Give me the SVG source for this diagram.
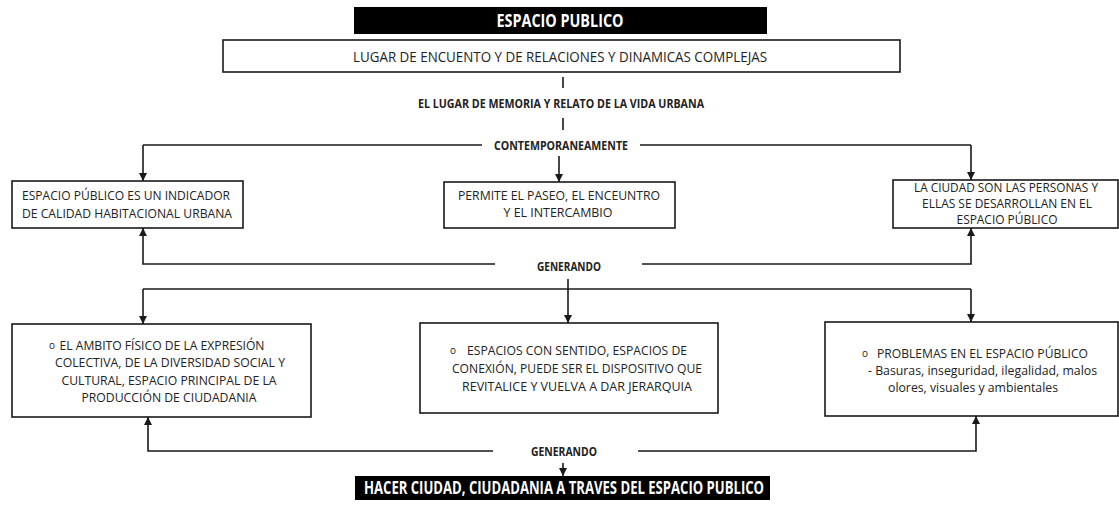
<svg xmlns="http://www.w3.org/2000/svg" width="1119" height="512" viewBox="0 0 1119 512">
<style>
.bg{fill:#fff}
.box{fill:#fff;stroke:#1a1a1a;stroke-width:1.6}
.dark{fill:#000}
.t{font-family:"Open Sans","Liberation Sans",sans-serif;font-size:13.5px;fill:#222;text-anchor:middle}
.tl{font-family:"Open Sans","Liberation Sans",sans-serif;font-size:12.5px;fill:#222}
.ts{font-size:12.5px}
.bul{font-family:"Open Sans","Liberation Sans",sans-serif;font-size:10px;fill:#222}
.b{font-family:"Open Sans","Liberation Sans",sans-serif;font-size:12px;font-weight:bold;fill:#222;text-anchor:middle}
.w{font-family:"Open Sans","Liberation Sans",sans-serif;font-size:17px;font-weight:bold;fill:#fff;text-anchor:middle}
.c{fill:none;stroke:#1a1a1a;stroke-width:1.6}
</style>
<defs>
<marker id="ah" viewBox="0 0 10 10" refX="10" refY="5" markerWidth="5" markerHeight="5" markerUnits="strokeWidth" orient="auto">
<path d="M0,0 L10,5 L0,10 z" fill="#1a1a1a"/>
</marker>
</defs>
<rect class="bg" x="0" y="0" width="1119" height="512"/>

<g id="connectors">
<line class="c" x1="563" y1="77" x2="563" y2="88"/>
<line class="c" x1="563" y1="118" x2="563" y2="130"/>
<line class="c" x1="143" y1="145" x2="482" y2="145"/>
<line class="c" x1="640" y1="145" x2="971" y2="145"/>
<path class="c" d="M143,145 V181" marker-end="url(#ah)"/>
<path class="c" d="M971,145 V180" marker-end="url(#ah)"/>
<path class="c" d="M559,156 V182" marker-end="url(#ah)"/>
<path class="c" d="M495,264 H143 V228" marker-end="url(#ah)"/>
<path class="c" d="M642,264 H971 V228" marker-end="url(#ah)"/>
<line class="c" x1="143" y1="289" x2="971" y2="289"/>
<path class="c" d="M143,289 V324" marker-end="url(#ah)"/>
<path class="c" d="M971,289 V322" marker-end="url(#ah)"/>
<path class="c" d="M568,279 V323" marker-end="url(#ah)"/>
<path class="c" d="M493,451 H148 V417" marker-end="url(#ah)"/>
<path class="c" d="M638,451 H976 V416" marker-end="url(#ah)"/>
<path class="c" d="M563,463 V476" marker-end="url(#ah)"/>
</g>

<g id="espacio-publico">
<rect class="dark" x="354" y="7" width="413" height="27"/>
<text class="w" x="560" y="27" textLength="127" lengthAdjust="spacingAndGlyphs">ESPACIO PUBLICO</text>
</g>

<g id="lugar">
<rect class="box" x="223" y="40" width="677" height="32"/>
<text class="t" x="560" y="62" style="font-size:15px" textLength="414" lengthAdjust="spacingAndGlyphs">LUGAR DE ENCUENTO Y DE RELACIONES Y DINAMICAS COMPLEJAS</text>
</g>

<g id="memoria">
<text class="b" x="561" y="108" textLength="286" lengthAdjust="spacingAndGlyphs">EL LUGAR DE MEMORIA Y RELATO DE LA VIDA URBANA</text>
</g>

<g id="contemporaneamente">
<text class="b" x="561" y="150" textLength="134" lengthAdjust="spacingAndGlyphs">CONTEMPORANEAMENTE</text>
</g>

<g id="indicador">
<rect class="box" x="12" y="181" width="231" height="47"/>
<text class="t" x="126" y="200" textLength="208" lengthAdjust="spacingAndGlyphs">ESPACIO PÚBLICO ES UN INDICADOR</text>
<text class="t" x="127" y="218" textLength="210" lengthAdjust="spacingAndGlyphs">DE CALIDAD HABITACIONAL URBANA</text>
</g>

<g id="paseo">
<rect class="box" x="444" y="182" width="231" height="46"/>
<text class="t" x="559" y="200" textLength="202" lengthAdjust="spacingAndGlyphs">PERMITE EL PASEO, EL ENCEUNTRO</text>
<text class="t" x="558" y="217" textLength="109" lengthAdjust="spacingAndGlyphs">Y EL INTERCAMBIO</text>
</g>

<g id="personas">
<rect class="box" x="893" y="180" width="225" height="48"/>
<text class="t ts" x="1006" y="192" textLength="184" lengthAdjust="spacingAndGlyphs">LA CIUDAD SON LAS PERSONAS Y</text>
<text class="t ts" x="1007" y="208" textLength="170" lengthAdjust="spacingAndGlyphs">ELLAS SE DESARROLLAN EN EL</text>
<text class="t ts" x="1007" y="224" textLength="101" lengthAdjust="spacingAndGlyphs">ESPACIO PÚBLICO</text>
</g>

<g id="generando-1">
<text class="b" x="569" y="271" textLength="64" lengthAdjust="spacingAndGlyphs">GENERANDO</text>
</g>

<g id="ambito">
<rect class="box" x="12" y="324" width="299" height="93"/>
<text class="bul" x="49" y="349">o</text>
<text class="t" x="162" y="350" textLength="205" lengthAdjust="spacingAndGlyphs">EL AMBITO FÍSICO DE LA EXPRESIÓN</text>
<text class="t" x="170" y="367" textLength="230" lengthAdjust="spacingAndGlyphs">COLECTIVA, DE LA DIVERSIDAD SOCIAL Y</text>
<text class="t" x="169" y="385" textLength="215" lengthAdjust="spacingAndGlyphs">CULTURAL, ESPACIO PRINCIPAL DE LA</text>
<text class="t" x="169" y="402" textLength="175" lengthAdjust="spacingAndGlyphs">PRODUCCIÓN DE CIUDADANIA</text>
</g>

<g id="sentido">
<rect class="box" x="420" y="323" width="298" height="90"/>
<text class="bul" x="450" y="354">o</text>
<text class="t" x="577" y="355" textLength="220" lengthAdjust="spacingAndGlyphs">ESPACIOS CON SENTIDO, ESPACIOS DE</text>
<text class="t" x="577" y="373" textLength="250" lengthAdjust="spacingAndGlyphs">CONEXIÓN, PUEDE SER EL DISPOSITIVO QUE</text>
<text class="t" x="577" y="391" textLength="230" lengthAdjust="spacingAndGlyphs">REVITALICE Y VUELVA A DAR JERARQUIA</text>
</g>

<g id="problemas">
<rect class="box" x="825" y="322" width="293" height="94"/>
<text class="bul" x="862" y="357">o</text>
<text class="tl" x="877" y="358" textLength="211" lengthAdjust="spacingAndGlyphs">PROBLEMAS EN EL ESPACIO PÚBLICO</text>
<text class="tl" x="868" y="375" textLength="229" lengthAdjust="spacingAndGlyphs">- Basuras, inseguridad, ilegalidad, malos</text>
<text class="tl" x="888" y="392" textLength="170" lengthAdjust="spacingAndGlyphs">olores, visuales y ambientales</text>
</g>

<g id="generando-2">
<text class="b" x="564" y="456" textLength="66" lengthAdjust="spacingAndGlyphs">GENERANDO</text>
</g>

<g id="hacer-ciudad">
<rect class="dark" x="355" y="476" width="415" height="24"/>
<text class="w" x="564" y="494" textLength="400" lengthAdjust="spacingAndGlyphs">HACER CIUDAD, CIUDADANIA A TRAVES DEL ESPACIO PUBLICO</text>
</g>
</svg>
